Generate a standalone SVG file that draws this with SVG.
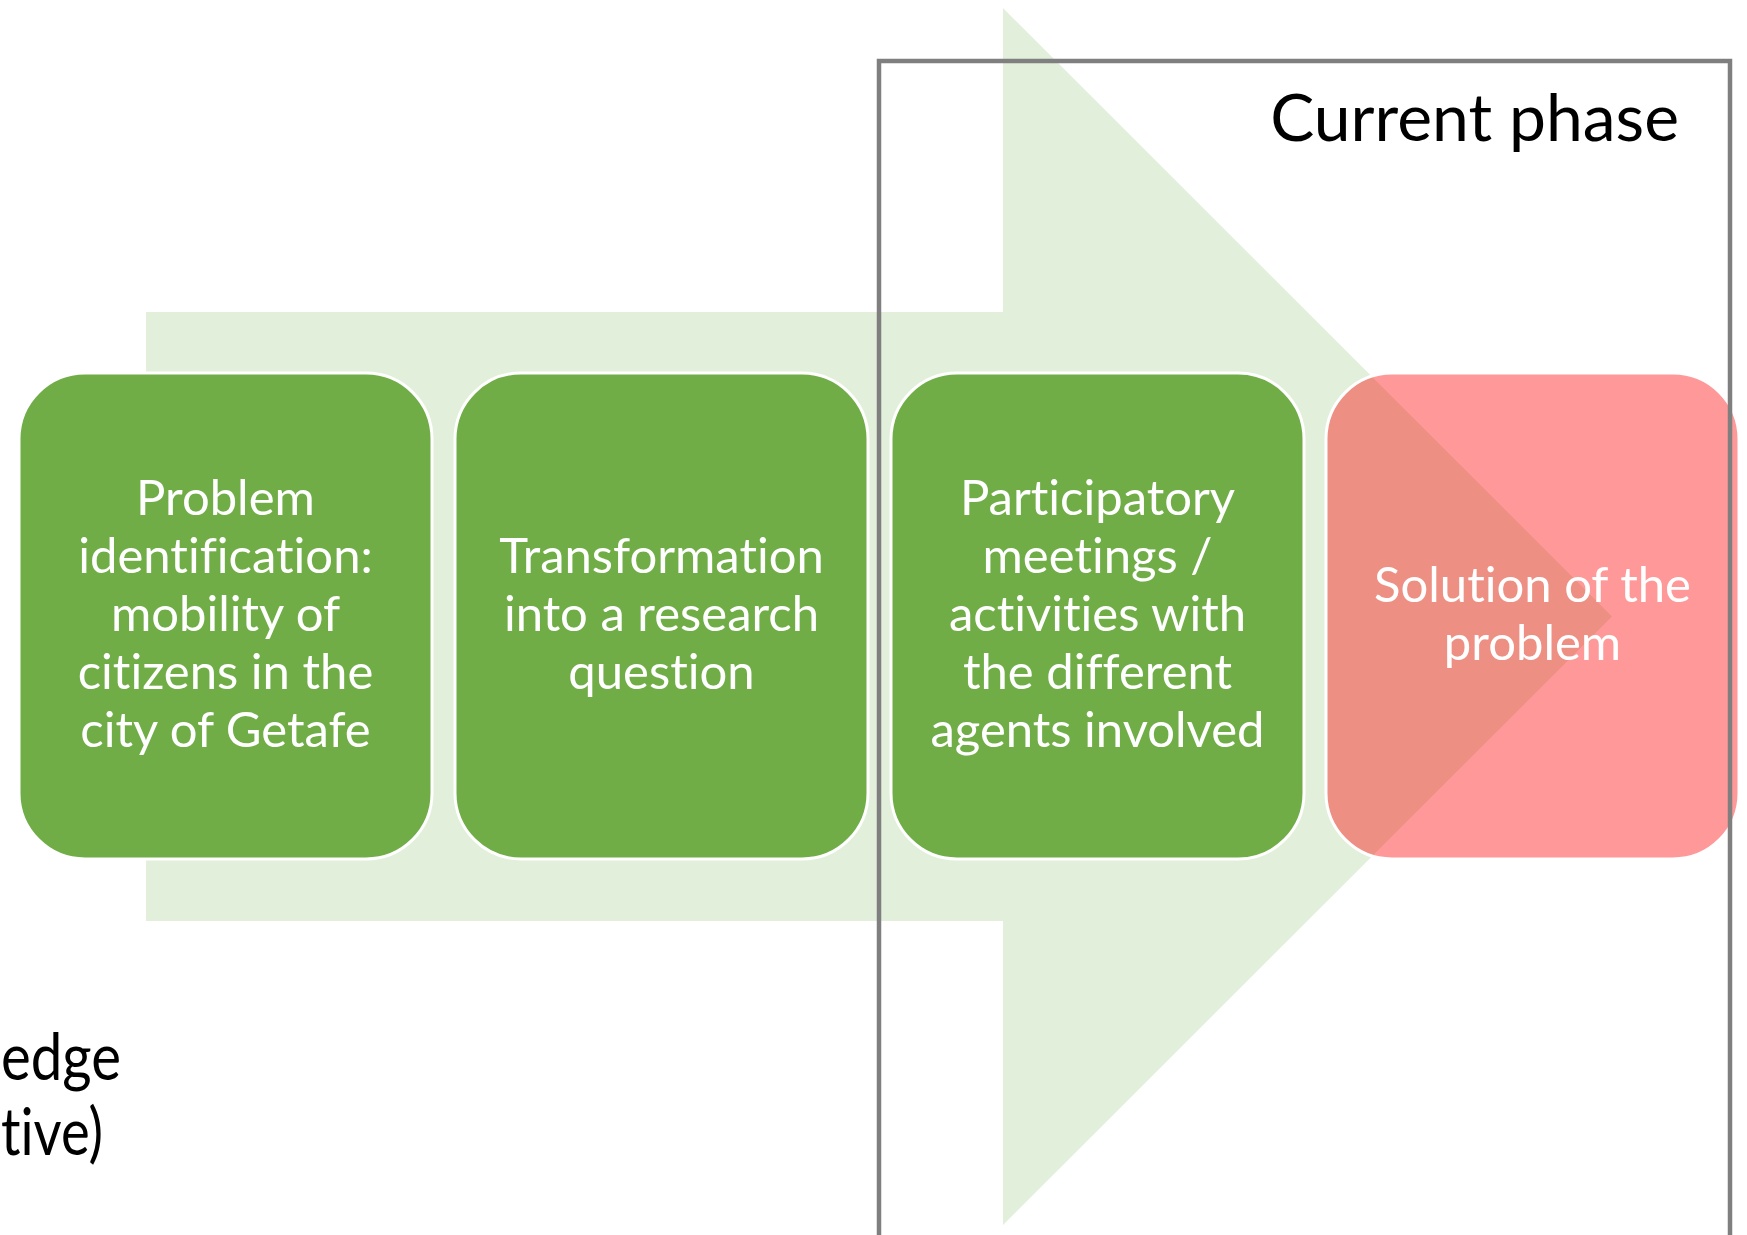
<svg xmlns="http://www.w3.org/2000/svg" width="1747" height="1235" viewBox="0 0 1747 1235">
<style>
text{font-variant-ligatures:none}
.box{fill:#70ad47;stroke:#ffffff;stroke-width:3}
.box.red{fill:#ff0000;fill-opacity:0.4}
.bt{font-family:Lato,"Open Sans",sans-serif;font-size:49px;fill:#ffffff;text-anchor:middle}
.lbl{font-family:Lato,"Open Sans",sans-serif;font-size:66px;fill:#000000}
</style>
<rect width="1747" height="1235" fill="#ffffff"/>
<g id="connectors">
<polygon id="big-arrow" points="146,312 1003,312 1003,8 1612,616.5 1003,1225 1003,921 146,921" fill="#e2efda"/>
</g>
<g id="node1">
<rect class="box" x="19" y="373" width="413" height="486" rx="66" ry="66"/>
<text class="bt" x="225.5"><tspan x="225.5" y="515">Problem</tspan><tspan x="225.5" y="573">identification:</tspan><tspan x="225.5" y="631">mobility of</tspan><tspan x="225.5" y="689">citizens in the</tspan><tspan x="225.5" y="747">city of Getafe</tspan></text>
</g>
<g id="node2">
<rect class="box" x="455" y="373" width="413" height="486" rx="66" ry="66"/>
<text class="bt" x="661.5"><tspan x="661.5" y="573">Transformation</tspan><tspan x="661.5" y="631">into a research</tspan><tspan x="661.5" y="689">question</tspan></text>
</g>
<g id="node3">
<rect class="box" x="891" y="373" width="413" height="486" rx="66" ry="66"/>
<text class="bt" x="1097.5"><tspan x="1097.5" y="515">Participatory</tspan><tspan x="1097.5" y="573">meetings /</tspan><tspan x="1097.5" y="631">activities with</tspan><tspan x="1097.5" y="689">the different</tspan><tspan x="1097.5" y="747">agents involved</tspan></text>
</g>
<g id="node4">
<rect class="box red" x="1326" y="373" width="413" height="486" rx="66" ry="66"/>
<text class="bt" x="1532.5"><tspan x="1532.5" y="602">Solution of the</tspan><tspan x="1532.5" y="660">problem</tspan></text>
</g>
<g id="current-phase">
<rect x="879" y="61" width="851" height="1250" fill="none" stroke="#7f7f7f" stroke-width="4.5"/>
<text class="lbl" x="1679" y="141" text-anchor="end">Current phase</text>
</g>
<g id="side-label">
<text class="lbl" x="1" y="1080" textLength="120" lengthAdjust="spacingAndGlyphs">edge</text>
<text class="lbl" x="1" y="1155" textLength="102" lengthAdjust="spacingAndGlyphs">tive)</text>
</g>
</svg>
